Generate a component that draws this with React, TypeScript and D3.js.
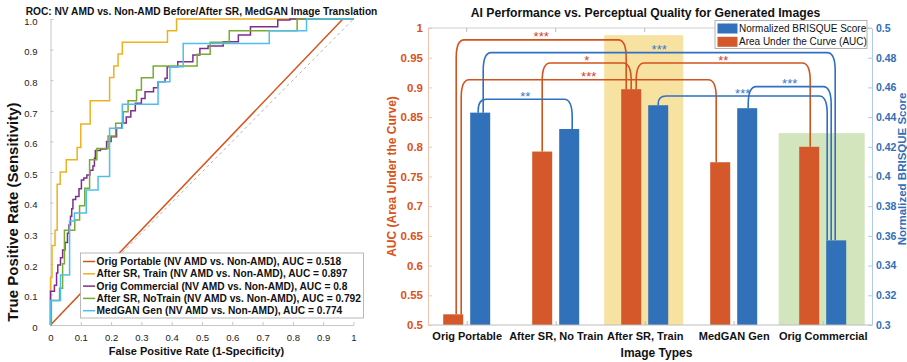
import { useEffect, useRef } from 'react'
import * as d3 from 'd3'

const FONT = "'Liberation Sans', Arial, Helvetica, sans-serif"

// ---------- left panel: ROC curves ----------
const rocNames = ['Orig Portable', 'After SR, Train', 'Orig Commercial', 'After SR, NoTrain', 'MedGAN Gen']
const rocAuc = [0.518, 0.897, 0.8, 0.792, 0.774]
const rocColors = ['#D95319', '#EDB120', '#7E2F8E', '#77AC30', '#4DBEEE']

// [fpr, tpr] knots (step-after; Orig Portable is drawn straight)
const rocOrigPortable: [number, number][] = [[0, 0], [0.965, 1], [1, 1]]
const rocSrTrain: [number, number][] = [
  [0, 0], [0, 0.155], [0.005, 0.26], [0.015, 0.31], [0.022, 0.46], [0.032, 0.5], [0.052, 0.54],
  [0.088, 0.58], [0.1, 0.657], [0.131, 0.733], [0.195, 0.809], [0.209, 0.846], [0.223, 0.886],
  [0.237, 0.924], [0.386, 0.962], [0.416, 1], [1, 1],
]
const rocOrigCommercial: [number, number][] = [
  [0, 0], [0, 0.11], [0.013, 0.13], [0.02, 0.17], [0.024, 0.196], [0.033, 0.22], [0.04, 0.245],
  [0.048, 0.27], [0.056, 0.3], [0.061, 0.327], [0.066, 0.355], [0.07, 0.38], [0.074, 0.41],
  [0.083, 0.42], [0.094, 0.445], [0.102, 0.474], [0.11, 0.48], [0.12, 0.49], [0.13, 0.506],
  [0.14, 0.52], [0.145, 0.545], [0.148, 0.57], [0.165, 0.575], [0.185, 0.6], [0.2, 0.615],
  [0.218, 0.643], [0.235, 0.66], [0.25, 0.68], [0.265, 0.7], [0.28, 0.725], [0.3, 0.74],
  [0.312, 0.762], [0.34, 0.775], [0.355, 0.795], [0.378, 0.806], [0.385, 0.844], [0.42, 0.86],
  [0.47, 0.882], [0.493, 0.904], [0.52, 0.912], [0.57, 0.926], [0.62, 0.948], [0.66, 0.975],
  [0.75, 0.997], [0.79, 1], [1, 1],
]
const rocSrNoTrain: [number, number][] = [
  [0, 0], [0.003, 0.08], [0.03, 0.12], [0.04, 0.2], [0.046, 0.31], [0.08, 0.343], [0.096, 0.39],
  [0.113, 0.447], [0.129, 0.54], [0.153, 0.577], [0.19, 0.618], [0.215, 0.659], [0.24, 0.697],
  [0.256, 0.733], [0.284, 0.768], [0.3, 0.808], [0.339, 0.846], [0.484, 0.885], [0.527, 0.924],
  [0.59, 0.962], [0.814, 1], [1, 1],
]
const rocMedGan: [number, number][] = [
  [0, 0], [0, 0.08], [0.033, 0.163], [0.063, 0.34], [0.079, 0.366], [0.118, 0.441], [0.157, 0.485],
  [0.195, 0.643], [0.237, 0.721], [0.355, 0.795], [0.394, 0.844], [0.438, 0.92], [0.722, 0.962],
  [0.845, 1], [1, 1],
]
const rocCurves = [rocOrigPortable, rocSrTrain, rocOrigCommercial, rocSrNoTrain, rocMedGan]

const rocTicks = [0, 0.1, 0.2, 0.3, 0.4, 0.5, 0.6, 0.7, 0.8, 0.9, 1]
const rocXTickLabels = ['0', '0.1', '0.2', '0.3', '0.4', '0.5', '0.6', '0.7', '0.8', '0.9', '1']
const rocYTickLabels = ['0', '0.1', '0.2', '0.3', '0.4', '0.5', '0.6', '0.7', '0.8', '0.9', '1.0']

// ---------- right panel: AUC vs BRISQUE bars ----------
const imageTypes = ['Orig Portable', 'After SR, No Train', 'After SR, Train', 'MedGAN Gen', 'Orig Commercial']
const aucValues = [0.518, 0.792, 0.897, 0.774, 0.8]
const brisqueValues = [0.443, 0.432, 0.448, 0.446, 0.357]
const barSeriesNames = ['Normalized BRISQUE Score', 'Area Under the Curve (AUC)']

const aucTickValues = [0.5, 0.55, 0.6, 0.65, 0.7, 0.75, 0.8, 0.85, 0.9, 0.95, 1]
const aucTickLabels = ['0.5', '0.55', '0.6', '0.65', '0.7', '0.75', '0.8', '0.85', '0.9', '0.95', '1']
const brisqueTickValues = [0.3, 0.32, 0.34, 0.36, 0.38, 0.4, 0.42, 0.44, 0.46, 0.48, 0.5]
const brisqueTickLabels = ['0.3', '0.32', '0.34', '0.36', '0.38', '0.4', '0.42', '0.44', '0.46', '0.48', '0.5']

// significance brackets (bar indices, bracket height in axis units, stars)
const aucBracketFrom = [0, 1, 0, 2]
const aucBracketTo = [2, 2, 3, 4]
const aucBracketLevel = [0.98, 0.941, 0.913, 0.941]
const aucBracketStars = ['***', '*', '***', '**']
const brisqueBracketFrom = [0, 0, 2, 3]
const brisqueBracketTo = [4, 1, 4, 4]
const brisqueBracketLevel = [0.4834, 0.452, 0.4542, 0.4605]
const brisqueBracketStars = ['***', '**', '***', '***']

// shaded columns (category index, top in AUC units)
const highlightIndex = [2, 4]
const highlightTop = [0.988, 0.823]

const ORANGE = '#D4582A'
const BLUE = '#3171B9'

type Sel = d3.Selection<SVGSVGElement, unknown, null, undefined>

function drawRoc(svg: Sel) {
  const x = d3.scaleLinear().domain([0, 1]).range([50.5, 353.5])
  const y = d3.scaleLinear().domain([0, 1]).range([325, 19])
  const g = svg.append('g')

  const xAxis = g.append('g')
    .attr('transform', `translate(0,${y(0)})`)
    .call(d3.axisBottom(x).tickValues(rocTicks).tickFormat((_, i) => rocXTickLabels[i]).tickSize(-3).tickSizeOuter(0).tickPadding(9))
  const yAxis = g.append('g')
    .attr('transform', `translate(${x(0)},0)`)
    .call(d3.axisLeft(y).tickValues(rocTicks).tickFormat((_, i) => rocYTickLabels[i]).tickSize(-3).tickSizeOuter(0).tickPadding(13))
  ;[xAxis, yAxis].forEach(a => {
    a.attr('font-family', FONT).attr('font-size', 9.5)
    a.select('.domain').attr('stroke', '#c6c6c6')
    a.selectAll('.tick line').attr('stroke', '#c6c6c6')
    a.selectAll('.tick text').attr('fill', '#222')
  })
  yAxis.selectAll('.tick text').attr('dy', '0.55em')

  // chance diagonal
  g.append('line')
    .attr('x1', x(0)).attr('y1', y(0)).attr('x2', x(1)).attr('y2', y(1))
    .attr('stroke', '#a0a0a0').attr('stroke-width', 0.8).attr('stroke-dasharray', '3,3')

  rocCurves.forEach((pts, i) => {
    const line = d3.line<[number, number]>()
      .x(d => x(d[0]))
      .y(d => y(d[1]))
      .curve(i === 0 ? d3.curveLinear : d3.curveStepAfter)
    g.append('path')
      .attr('d', line(pts) || '')
      .attr('fill', 'none')
      .attr('stroke', rocColors[i])
      .attr('stroke-width', 1.5)
  })

  // legend
  const lg = g.append('g')
  lg.append('rect').attr('x', 80.5).attr('y', 253).attr('width', 283).attr('height', 65)
    .attr('fill', '#fff').attr('stroke', '#a8a8a8').attr('stroke-width', 0.8)
  rocNames.forEach((name, i) => {
    const yy = 261.5 + i * 12.3
    lg.append('line').attr('x1', 83).attr('x2', 95).attr('y1', yy).attr('y2', yy)
      .attr('stroke', rocColors[i]).attr('stroke-width', 1.5)
    lg.append('text').attr('x', 96.5).attr('y', yy + 3.6)
      .style('font-size', '10.2px').style('font-weight', 'bold').style('fill', '#111')
      .text(`${name} (NV AMD vs. Non-AMD), AUC = ${rocAuc[i]}`)
  })

  g.append('text').attr('x', 201.5).attr('y', 15).attr('text-anchor', 'middle')
    .style('font-size', '10.2px').style('font-weight', 'bold').style('fill', '#111')
    .text('ROC: NV AMD vs. Non-AMD Before/After SR, MedGAN Image Translation')
  g.append('text').attr('x', 196.5).attr('y', 354.5).attr('text-anchor', 'middle')
    .style('font-size', '11px').style('font-weight', 'bold').style('fill', '#111')
    .text('False Positive Rate (1-Specificity)')
  g.append('text').attr('transform', 'translate(18,212) rotate(-90)').attr('text-anchor', 'middle')
    .style('font-size', '15px').style('font-weight', 'bold').style('fill', '#111')
    .text('True Positive Rate (Sensitivity)')
}

function bracketPath(x1: number, y1: number, x2: number, y2: number, yl: number) {
  const rx = 8
  const r1 = Math.min(18, (y1 - yl) * 0.85)
  const r2 = Math.min(18, (y2 - yl) * 0.85)
  return `M${x1},${y1}L${x1},${yl + r1}Q${x1},${yl} ${x1 + rx},${yl}L${x2 - rx},${yl}Q${x2},${yl} ${x2},${yl + r2}L${x2},${y2}`
}

function drawBars(svg: Sel) {
  const left = 428
  const right = 872
  const xCat = d3.scalePoint<string>().domain(imageTypes).range([466.7, 822.7])
  const yAuc = d3.scaleLinear().domain([0.5, 1]).range([325, 28])
  const yBri = d3.scaleLinear().domain([0.3, 0.5]).range([325, 28])
  const barW = 20
  const barOff = 13.5
  const cx = (i: number) => xCat(imageTypes[i]) as number

  const g = svg.append('g')

  // shaded columns
  const hlHalf = [39.5, 43]
  const hlFill = ['#F8E2A2', '#D3E5BD']
  highlightIndex.forEach((ci, i) => {
    g.append('rect')
      .attr('x', cx(ci) - hlHalf[i] - 1).attr('width', hlHalf[i] * 2)
      .attr('y', yAuc(highlightTop[i])).attr('height', yAuc(0.5) - yAuc(highlightTop[i]))
      .attr('fill', hlFill[i])
  })

  // bars
  g.selectAll('rect.auc').data(aucValues).enter().append('rect')
    .attr('x', (_, i) => cx(i) - barOff - barW / 2).attr('width', barW)
    .attr('y', d => yAuc(d)).attr('height', d => yAuc(0.5) - yAuc(d))
    .attr('fill', ORANGE)
  g.selectAll('rect.bri').data(brisqueValues).enter().append('rect')
    .attr('x', (_, i) => cx(i) + barOff - barW / 2).attr('width', barW)
    .attr('y', d => yBri(d)).attr('height', d => yBri(0.3) - yBri(d))
    .attr('fill', BLUE)

  // significance brackets
  const aucLegDx = [[3, -5], [0, 0], [8, -4], [5, 1]]
  const briLegDx = [[3, -1], [-2, 3], [0, -9], [1, -5]]
  aucBracketFrom.forEach((a, k) => {
    const b = aucBracketTo[k]
    const x1 = cx(a) - barOff + aucLegDx[k][0]
    const x2 = cx(b) - barOff + aucLegDx[k][1]
    const yl = yAuc(aucBracketLevel[k])
    g.append('path').attr('d', bracketPath(x1, yAuc(aucValues[a]), x2, yAuc(aucValues[b]), yl))
      .attr('fill', 'none').attr('stroke', '#D2531E').attr('stroke-width', 1.6)
    g.append('text').attr('x', (x1 + x2) / 2).attr('y', yl + 1.5).attr('text-anchor', 'middle')
      .style('font-size', '13px').style('fill', '#D23F2C').text(aucBracketStars[k])
  })
  brisqueBracketFrom.forEach((a, k) => {
    const b = brisqueBracketTo[k]
    const x1 = cx(a) + barOff + briLegDx[k][0]
    const x2 = cx(b) + barOff + briLegDx[k][1]
    const yl = yBri(brisqueBracketLevel[k])
    g.append('path').attr('d', bracketPath(x1, yBri(brisqueValues[a]), x2, yBri(brisqueValues[b]), yl))
      .attr('fill', 'none').attr('stroke', '#2F70C2').attr('stroke-width', 1.6)
    g.append('text').attr('x', (x1 + x2) / 2).attr('y', yl + 1.5).attr('text-anchor', 'middle')
      .style('font-size', '13px').style('fill', '#3A78C8').text(brisqueBracketStars[k])
  })

  // frame: top and bottom lines with category ticks
  g.append('line').attr('x1', left).attr('x2', right).attr('y1', 28).attr('y2', 28).attr('stroke', '#cfcfcf')
  g.append('line').attr('x1', left).attr('x2', right).attr('y1', 325).attr('y2', 325).attr('stroke', '#bdbdbd')
  imageTypes.forEach((_, i) => {
    g.append('line').attr('x1', cx(i)).attr('x2', cx(i)).attr('y1', 28).attr('y2', 32).attr('stroke', '#bdbdbd')
  })
  const xAxis = g.append('g').attr('transform', 'translate(0,325)')
    .call(d3.axisBottom(xCat).tickSize(-4).tickSizeOuter(0).tickPadding(7))
  xAxis.attr('font-family', FONT).attr('font-size', 11)
  xAxis.select('.domain').remove()
  xAxis.selectAll('.tick line').attr('stroke', '#bdbdbd')
  xAxis.selectAll('.tick text').attr('fill', '#111').style('font-weight', 'bold')

  const aucAxis = g.append('g').attr('transform', `translate(${left},0)`)
    .call(d3.axisLeft(yAuc).tickValues(aucTickValues).tickFormat((_, i) => aucTickLabels[i]).tickSize(-4).tickSizeOuter(0).tickPadding(5))
  aucAxis.attr('font-family', FONT).attr('font-size', 11.5)
  aucAxis.select('.domain').attr('stroke', '#F0C4B0')
  aucAxis.selectAll('.tick line').attr('stroke', '#F0C4B0')
  aucAxis.selectAll('.tick text').attr('fill', '#D95319').style('font-weight', 'bold')

  const briAxis = g.append('g').attr('transform', `translate(${right},0)`)
    .call(d3.axisRight(yBri).tickValues(brisqueTickValues).tickFormat((_, i) => brisqueTickLabels[i]).tickSize(-4).tickSizeOuter(0).tickPadding(4))
  briAxis.attr('font-family', FONT).attr('font-size', 10.5)
  briAxis.select('.domain').attr('stroke', '#AFCBEA')
  briAxis.selectAll('.tick line').attr('stroke', '#AFCBEA')
  briAxis.selectAll('.tick text').attr('fill', '#2E6FB7').style('font-weight', 'bold')

  // legend
  const lg = g.append('g')
  lg.append('rect').attr('x', 715).attr('y', 20.5).attr('width', 152).attr('height', 28)
    .attr('fill', '#fff').attr('stroke', '#a0a0a0').attr('stroke-width', 0.8)
  ;[BLUE, ORANGE].forEach((c, i) => {
    lg.append('rect').attr('x', 717.5).attr('y', 23.5 + i * 13.3).attr('width', 20).attr('height', 10).attr('fill', c)
    lg.append('text').attr('x', 739).attr('y', 32 + i * 13.3)
      .style('font-size', '10px').style('fill', '#111').text(barSeriesNames[i])
  })

  // titles
  g.append('text').attr('x', 645.5).attr('y', 16.7).attr('text-anchor', 'middle')
    .style('font-size', '12.2px').style('font-weight', 'bold').style('fill', '#111')
    .text('AI Performance vs. Perceptual Quality for Generated Images')
  g.append('text').attr('x', 656.5).attr('y', 356.5).attr('text-anchor', 'middle')
    .style('font-size', '12px').style('font-weight', 'bold').style('fill', '#111')
    .text('Image Types')
  g.append('text').attr('transform', 'translate(395.5,176.5) rotate(-90)').attr('text-anchor', 'middle')
    .style('font-size', '12px').style('font-weight', 'bold').style('fill', '#D95319')
    .text('AUC (Area Under the Curve)')
  g.append('text').attr('transform', 'translate(905.5,169) rotate(-90)').attr('text-anchor', 'middle')
    .style('font-size', '11.5px').style('font-weight', 'bold').style('fill', '#2E6FB7')
    .text('Normalized BRISQUE Score')
}

export default function App() {
  const ref = useRef<SVGSVGElement>(null)

  useEffect(() => {
    if (!ref.current) return
    const svg = d3.select(ref.current)
    svg.selectAll('*').remove()
    drawRoc(svg)
    drawBars(svg)
    return () => { svg.selectAll('*').remove() }
  }, [])

  return (
    <svg
      ref={ref}
      width={907}
      height={362}
      style={{ position: 'absolute', left: 0, top: 0, background: '#fff', fontFamily: FONT }}
    />
  )
}
